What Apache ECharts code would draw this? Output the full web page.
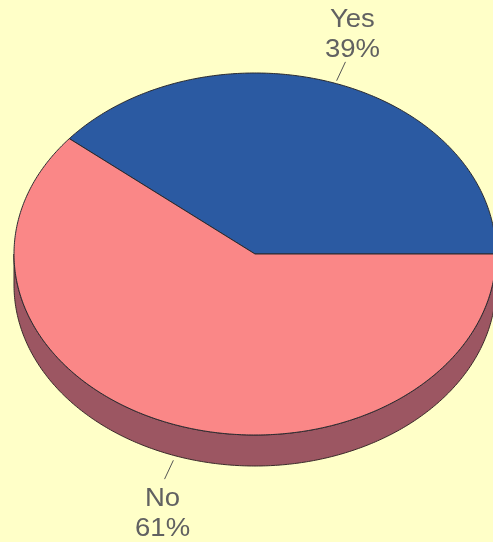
<!DOCTYPE html>
<html>
<head>
<meta charset="utf-8">
<script src="https://cdn.jsdelivr.net/npm/echarts@6/dist/echarts.min.js"></script>
<style>
    html, body { margin: 0; padding: 0; background: #ffffc8; }
    #chart { width: 493px; height: 542px; }
</style>
</head>
<body>
<div id="chart"></div>
<script>
    // data
    var categories = ['Yes', 'No'];
    var values = [39, 61];
    var topColors = ['#2b5aa2', '#fa8787'];
    var sideColors = ['#1d3d70', '#9c5662'];

    var total = values.reduce(function (a, b) { return a + b; }, 0);

    // ellipse layout
    var cx = 255, cy = 254, rx = 241, ry = 181, depth = 31;

    function pt(t, dy) {
        return [cx + rx * Math.cos(t), cy - ry * Math.sin(t) + (dy || 0)];
    }

    function arc(a, b, dy) {
        var pts = [];
        var n = Math.max(2, Math.ceil(Math.abs(b - a) / 0.01));
        for (var i = 0; i <= n; i++) {
            pts.push(pt(a + (b - a) * i / n, dy));
        }
        return pts;
    }

    function label(x, y, text) {
        return {
            type: 'text',
            x: x,
            y: y,
            scaleX: 1.1,
            style: {
                text: text,
                fill: '#616161',
                font: '25px "Liberation Sans", Arial, sans-serif',
                align: 'center',
                verticalAlign: 'middle'
            }
        };
    }

    function renderItem(params, api) {
        var idx = params.dataIndex;
        var before = 0;
        for (var i = 0; i < idx; i++) before += values[i];
        var start = before / total * Math.PI * 2;
        var end = (before + api.value(1)) / total * Math.PI * 2;
        var children = [];

        // side wall for the front half
        var a = Math.max(start, Math.PI), b = Math.min(end, Math.PI * 2);
        if (a < b) {
            var sidePts = arc(a, b, 0).concat(arc(b, a, depth));
            children.push({
                type: 'polygon',
                shape: { points: sidePts },
                style: { fill: sideColors[idx], stroke: '#3a2a2a', lineWidth: 1 }
            });
        }

        // top face
        var topPts = [[cx, cy]].concat(arc(start, end, 0));
        children.push({
            type: 'polygon',
            shape: { points: topPts },
            style: { fill: topColors[idx], stroke: '#2a2a30', lineWidth: 1 }
        });

        // label + leader line
        var m = (start + end) / 2;
        var dx = Math.cos(m), dy = -Math.sin(m);
        var up = dy < 0;
        var anchor = pt(m, up ? -3 : depth + 5);
        var lineEnd = [anchor[0] + dx * 26, anchor[1] + dy * 20];
        children.push({
            type: 'line',
            shape: { x1: anchor[0], y1: anchor[1], x2: lineEnd[0], y2: lineEnd[1] },
            style: { stroke: '#555', lineWidth: 1 }
        });
        var tx = lineEnd[0] + (up ? 7 : -2);
        var y1 = up ? lineEnd[1] - 42 : lineEnd[1] + 20;
        children.push(label(tx, y1, categories[idx]));
        children.push(label(tx, y1 + 30, api.value(1) + '%'));

        return { type: 'group', children: children };
    }

    var myChart = echarts.init(document.getElementById('chart'));
    myChart.setOption({
        backgroundColor: '#ffffc8',
        animation: false,
        series: [{
            type: 'custom',
            coordinateSystem: 'none',
            renderItem: renderItem,
            data: categories.map(function (c, i) { return [i, values[i]]; })
        }]
    });
</script>
</body>
</html>
